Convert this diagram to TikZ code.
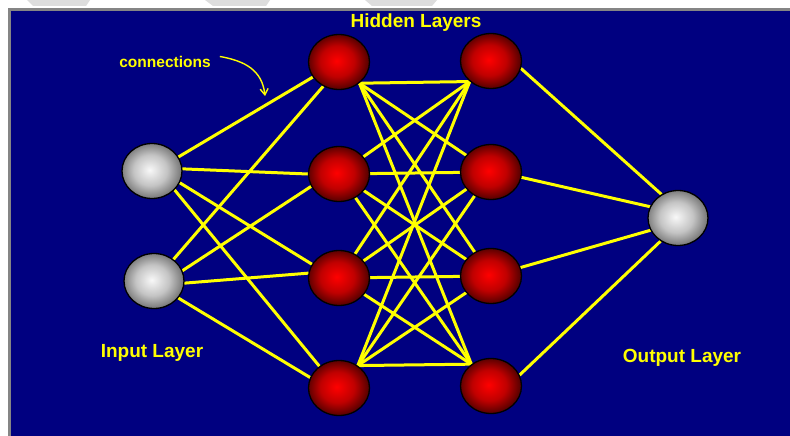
\documentclass[tikz,border=0pt]{standalone}
\usepackage{fontspec}
\setmainfont{Liberation Sans}
\usetikzlibrary{shapes.geometric,arrows.meta}
\definecolor{navybg}{HTML}{000080}
\definecolor{lineyel}{HTML}{FFFF00}
\definecolor{ballred}{HTML}{FF0000}
\definecolor{ballmid}{HTML}{C00000}
\definecolor{balldark}{HTML}{580000}
\definecolor{grayhi}{HTML}{F8F8F8}
\definecolor{graymid}{HTML}{C4C4C4}
\definecolor{graylo}{HTML}{7A7A7A}
\definecolor{framegray}{HTML}{858585}
\definecolor{wmark}{HTML}{DDDDDD}
\pgfdeclareradialshading{redball}{\pgfpoint{-2bp}{1bp}}{color(0bp)=(ballred); color(14bp)=(ballmid); color(25bp)=(balldark); color(50bp)=(balldark)}
\pgfdeclareradialshading{grayball}{\pgfpoint{-2bp}{1bp}}{color(0bp)=(grayhi); color(14bp)=(graymid); color(25bp)=(graylo); color(50bp)=(graylo)}
\pgfdeclarelayer{bg}
\pgfdeclarelayer{edges}
\pgfsetlayers{bg,edges,main}
\tikzset{
  redn/.style={ellipse, draw=black, line width=1.3pt, minimum width=61pt, minimum height=55pt, inner sep=0pt, shade, shading=redball},
  grayn/.style={ellipse, draw=black, line width=1.3pt, minimum width=60pt, minimum height=55pt, inner sep=0pt, shade, shading=grayball},
  conn/.style={draw=lineyel, line width=3pt, line cap=round},
  lbl/.style={text=lineyel, font=\bfseries\fontsize{19}{19}\selectfont, anchor=base, inner sep=0pt},
  smalllbl/.style={text=lineyel, font=\bfseries\fontsize{15.5}{16}\selectfont, anchor=base, inner sep=0pt},
  frameline/.style={draw=none, fill=framegray},
  wm/.style={draw=none, fill=wmark}
}
\begin{document}
\begin{tikzpicture}[x=1pt,y=-1pt]
\useasboundingbox (0,0) rectangle (790,436);
\begin{pgfonlayer}{bg}
  \fill[white] (0,0) rectangle (790,436);
  \path[wm] (27,0) -- (90,0) -- (86,6) -- (33,6) -- cycle;
  \path[wm] (205,0) -- (270,0) -- (266,6) -- (213,6) -- cycle;
  \path[wm] (365,0) -- (437,0) -- (432,6) -- (372,6) -- cycle;
  \path[frameline] (8,8) rectangle (790,11);
  \path[frameline] (8,8) rectangle (11,436);
  \fill[navybg] (11,11) rectangle (790,436);
\end{pgfonlayer}

% input layer
\node[grayn] (i1) at (152,171) {};
\node[grayn] (i2) at (154,281) {};
% hidden layer 1
\node[redn] (h1a) at (339,62) {};
\node[redn] (h1b) at (339,174) {};
\node[redn] (h1c) at (339,278) {};
\node[redn] (h1d) at (339,388) {};
% hidden layer 2
\node[redn] (h2a) at (491,61) {};
\node[redn] (h2b) at (491,172) {};
\node[redn] (h2c) at (491,276) {};
\node[redn] (h2d) at (491,386) {};
% output
\node[grayn] (o) at (678,218) {};

% labels
\node[lbl] (thidden) at (416,28) {Hidden Layers};
\node[lbl] (tinput) at (152,357) {Input Layer};
\node[lbl] (toutput) at (682,362) {Output Layer};
\node[smalllbl] (tconn) at (165,67) {connections};
\coordinate (arrend) at (265,96);
\draw[lineyel, line width=1.4pt, -{Straight Barb[length=6pt,width=8pt]}]
  (tconn.east) ++(9,-5) .. controls (245,61) and (262,70) .. (arrend);

\begin{pgfonlayer}{edges}
  % input -> hidden 1
  \draw[conn] (i1.28) -- (h1a.210);
  \draw[conn] (i1.4) -- (h1b.180);
  \draw[conn] (i1.-23) -- (h1c.153);
  \draw[conn] (i1.-40) -- (h1d.132);
  \draw[conn] (i2.48) -- (h1a.237);
  \draw[conn] (i2.20) -- (h1b.204);
  \draw[conn] (i2.-4) -- (h1c.171);
  \draw[conn] (i2.-35) -- (h1d.160);
  % hidden 1 -> hidden 2
  \draw[conn] (h1a.-46) -- (h2a.-136);
  \draw[conn] (h1a.-46) -- (h2b);
  \draw[conn] (h1a.-46) -- (h2c);
  \draw[conn] (h1a.-46) -- (h2d.132);
  \draw[conn] (h1b) -- (h2a.-136);
  \draw[conn] (h1b) -- (h2b);
  \draw[conn] (h1b) -- (h2c);
  \draw[conn] (h1b) -- (h2d.132);
  \draw[conn] (h1c) -- (h2a.-136);
  \draw[conn] (h1c) -- (h2b);
  \draw[conn] (h1c) -- (h2c);
  \draw[conn] (h1c) -- (h2d.132);
  \draw[conn] (h1d.50) -- (h2a.-136);
  \draw[conn] (h1d.50) -- (h2b);
  \draw[conn] (h1d.50) -- (h2c);
  \draw[conn] (h1d.50) -- (h2d.132);
  % hidden 2 -> output
  \draw[conn] (h2a.-14) -- (o.125);
  \draw[conn] (h2b.-10) -- (o.158);
  \draw[conn] (h2c.16) -- (o.204);
  \draw[conn] (h2d.21) -- (o.233);
\end{pgfonlayer}
\end{tikzpicture}
\end{document}
